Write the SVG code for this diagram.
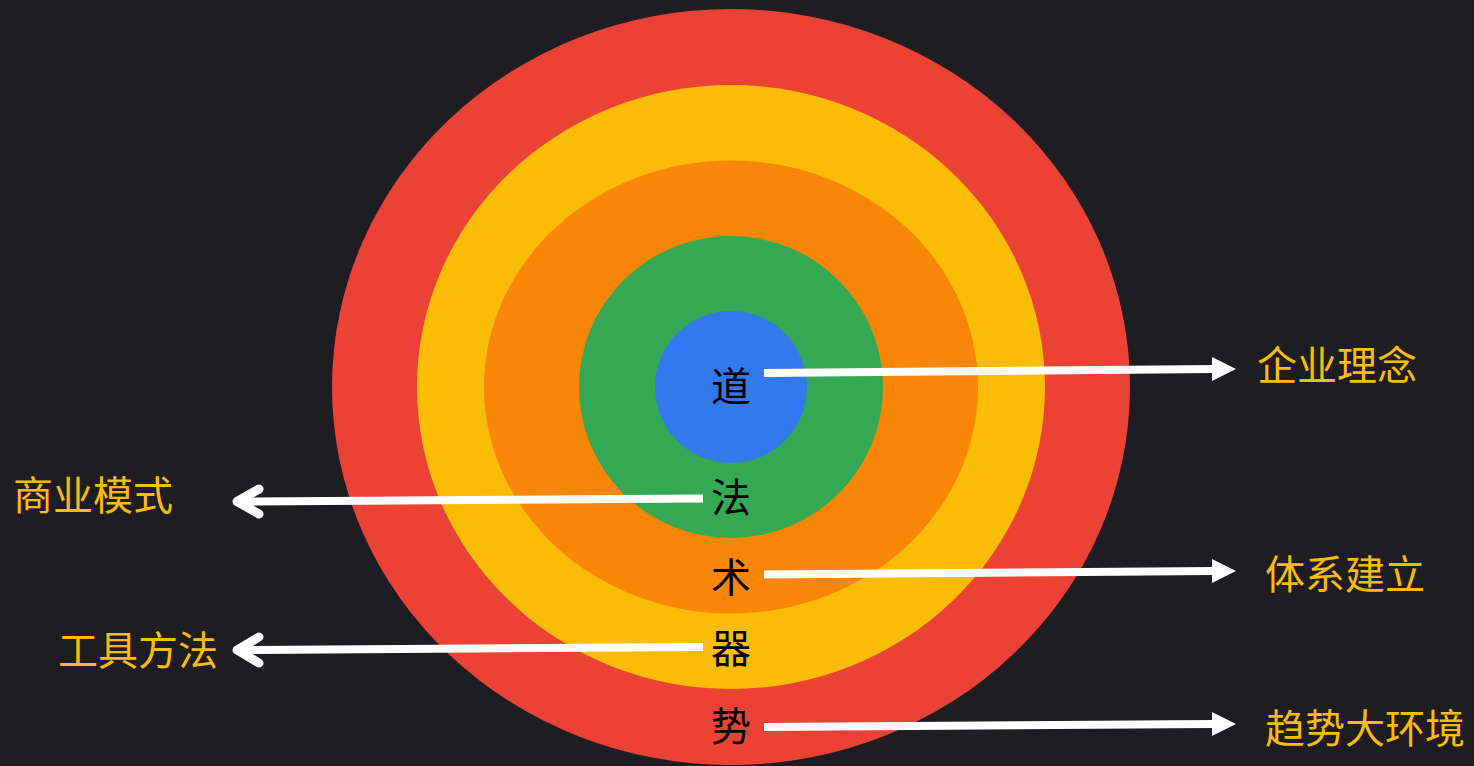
<svg xmlns="http://www.w3.org/2000/svg" width="1474" height="766" viewBox="0 0 1474 766">
<style>
.core{font-family:"Noto Sans CJK SC","Noto Sans",sans-serif;font-size:40px;fill:#000;text-anchor:middle}
.lbl{font-family:"Noto Sans CJK SC","Noto Sans",sans-serif;font-size:40px;fill:#FBBC05}
.ln{stroke:#fff;stroke-width:8;fill:none}
.chev{stroke:#fff;stroke-width:9;fill:none;stroke-linecap:round;stroke-linejoin:round}
.head{fill:#fff}
</style>
<rect width="1474" height="766" fill="#1e1e22"/>
<g id="ring-shi"><ellipse cx="731" cy="387" rx="399" ry="378" fill="#EA4335"/></g>
<g id="ring-qi"><ellipse cx="731" cy="387" rx="314" ry="302" fill="#FBBC05"/></g>
<g id="ring-shu"><ellipse cx="731" cy="387" rx="247" ry="226.5" fill="#FA8607"/></g>
<g id="ring-fa"><ellipse cx="731" cy="387" rx="152" ry="151" fill="#34A853"/></g>
<g id="ring-dao"><circle cx="731" cy="387" r="76" fill="#3378EE"/></g>
<g id="core-labels">
<text class="core" x="731" y="401">道</text>
<text class="core" x="731" y="512">法</text>
<text class="core" x="731" y="592">术</text>
<text class="core" x="731" y="663">器</text>
<text class="core" x="731" y="741">势</text>
</g>
<g id="connectors">
<path class="ln" d="M764,373 L1214,369"/>
<polygon class="head" points="1212,357 1236,369 1212,381"/>
<path class="ln" d="M703,498.5 L238,501.5"/>
<path class="chev" d="M259,489 L237,501.5 L259,514"/>
<path class="ln" d="M764,574.5 L1214,571"/>
<polygon class="head" points="1212,559 1236,571 1212,583"/>
<path class="ln" d="M703,647 L238,650"/>
<path class="chev" d="M259,637 L237,650 L259,663"/>
<path class="ln" d="M764,727 L1214,724"/>
<polygon class="head" points="1212,712 1236,724 1212,736"/>
</g>
<g id="label-dao"><text class="lbl" x="1257" y="380">企业理念</text></g>
<g id="label-fa"><text class="lbl" x="13" y="510">商业模式</text></g>
<g id="label-shu"><text class="lbl" x="1265" y="589">体系建立</text></g>
<g id="label-qi"><text class="lbl" x="58" y="665">工具方法</text></g>
<g id="label-shi"><text class="lbl" x="1265" y="743">趋势大环境</text></g>
</svg>
